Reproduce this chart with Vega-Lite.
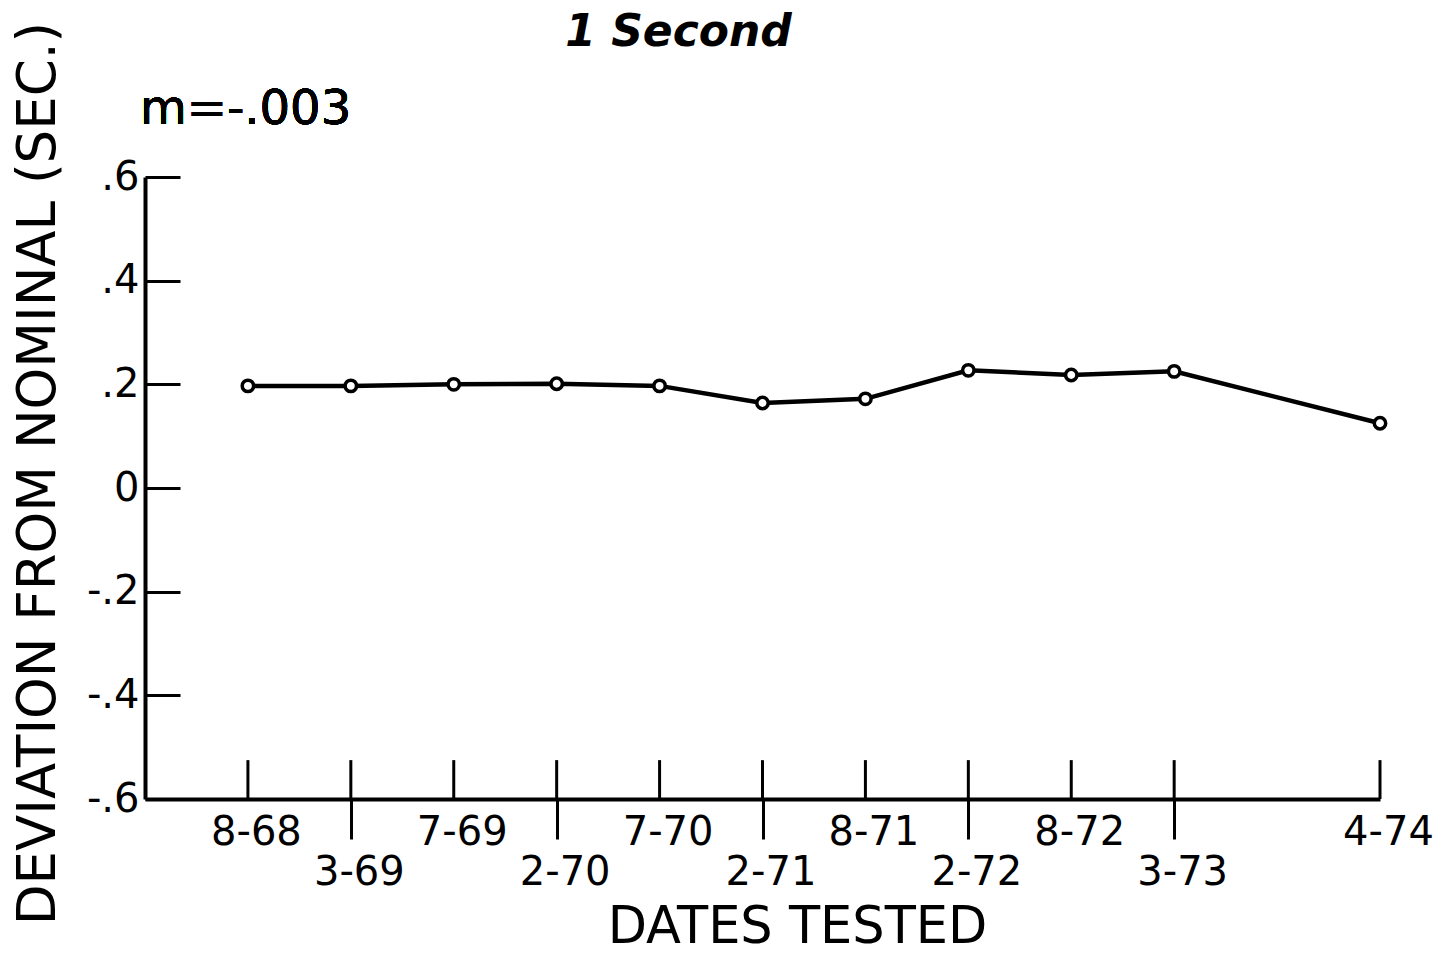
{
  "$schema": "https://vega.github.io/schema/vega-lite/v6.json",
  "width": 1235,
  "height": 622,
  "autosize": {"type": "none"},
  "padding": {"left": 145, "top": 177, "right": 64, "bottom": 155},
  "background": "white",
  "config": {"view": {"stroke": null}, "font": "DejaVu Sans"},
  "title": {
    "text": "1 Second",
    "font": "DejaVu Sans",
    "fontSize": 44,
    "fontStyle": "italic",
    "fontWeight": "bold",
    "anchor": "middle",
    "frame": "group",
    "dx": -84,
    "dy": 38,
    "color": "black"
  },
  "data": {
    "values": [
      {"date": "8-68", "dev": 0.197},
      {"date": "3-69", "dev": 0.197},
      {"date": "7-69", "dev": 0.2},
      {"date": "2-70", "dev": 0.201},
      {"date": "7-70", "dev": 0.197},
      {"date": "2-71", "dev": 0.164},
      {"date": "8-71", "dev": 0.172},
      {"date": "2-72", "dev": 0.227},
      {"date": "8-72", "dev": 0.218},
      {"date": "3-73", "dev": 0.225},
      {"date": "4-74", "dev": 0.125}
    ]
  },
  "layer": [
    {
      "mark": {"type": "rule", "stroke": "black", "strokeWidth": 3},
      "encoding": {
        "x": {
          "field": "date",
          "type": "ordinal",
          "scale": {
            "type": "point",
            "domain": ["_a", "8-68", "3-69", "7-69", "2-70", "7-70", "2-71", "8-71", "2-72", "8-72", "3-73", "_b", "4-74"],
            "padding": 0
          },
          "axis": {
            "values": ["8-68", "3-69", "7-69", "2-70", "7-70", "2-71", "8-71", "2-72", "8-72", "3-73", "4-74"],
            "title": "DATES TESTED",
            "titleFont": "DejaVu Sans",
            "titleFontSize": 51,
            "titleFontWeight": "normal",
            "titleColor": "black",
            "titleX": 652,
            "titleY": 143,
            "titleAlign": "center",
            "titleBaseline": "alphabetic",
            "labelFont": "DejaVu Sans",
            "labelFontSize": 40,
            "labelColor": "black",
            "labelAngle": 0,
            "labelBaseline": "top",
            "labelPadding": 13,
            "labelOffset": 8,
            "labelOverlap": false,
            "labelFlush": false,
            "tickSize": {"condition": {"test": "indexof(['3-69','2-70','2-71','2-72','3-73'], datum.value) >= 0", "value": 40}, "value": 0},
            "tickWidth": 3,
            "tickColor": "black",
            "domainColor": "black",
            "domainWidth": 4,
            "grid": false
          }
        },
        "y": {
          "datum": -0.6,
          "type": "quantitative",
          "scale": {"domain": [-0.6, 0.6], "nice": false, "zero": false},
          "axis": {
            "values": [-0.6, -0.4, -0.2, 0, 0.2, 0.4, 0.6],
            "labelExpr": "datum.value == 0 ? '0' : replace(replace(format(datum.value, '.1f'), '0.', '.'), '\u2212', '-')",
            "labelFont": "DejaVu Sans",
            "labelFontSize": 40,
            "labelColor": "black",
            "labelPadding": 41,
            "tickSize": -35,
            "tickWidth": 3,
            "tickColor": "black",
            "domainColor": "black",
            "domainWidth": 4,
            "grid": false,
            "title": "DEVIATION FROM NOMINAL (SEC.)",
            "titleFont": "DejaVu Sans",
            "titleFontSize": 53,
            "titleFontWeight": "normal",
            "titleColor": "black",
            "titleAngle": -90,
            "titleX": -107,
            "titleY": 296,
            "titleAlign": "center",
            "titleBaseline": "middle"
          }
        },
        "y2": {"datum": -0.525}
      }
    },
    {
      "mark": {"type": "line", "color": "black", "strokeWidth": 4.5},
      "encoding": {
        "x": {"field": "date", "type": "ordinal"},
        "y": {"field": "dev", "type": "quantitative"},
        "order": {"value": null}
      }
    },
    {
      "mark": {"type": "point", "shape": "circle", "filled": true, "fill": "white", "stroke": "black", "strokeWidth": 3.5, "size": 130, "opacity": 1},
      "encoding": {
        "x": {"field": "date", "type": "ordinal"},
        "y": {"field": "dev", "type": "quantitative"}
      }
    },
    {
      "mark": {"type": "text", "text": "m=-.003", "font": "DejaVu Sans", "fontSize": 48, "align": "left", "baseline": "alphabetic", "dx": -5, "dy": -53, "color": "black"},
      "encoding": {
        "x": {"datum": "_a"},
        "y": {"datum": 0.6}
      }
    }
  ]
}
